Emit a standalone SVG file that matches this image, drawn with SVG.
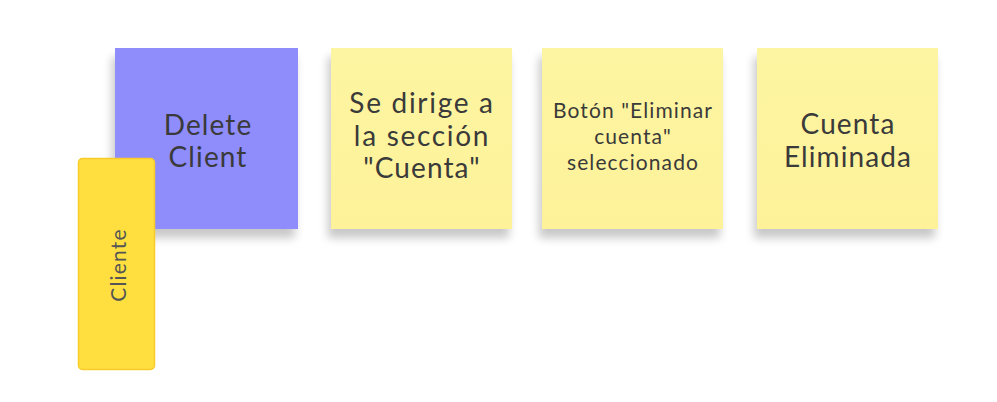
<svg xmlns="http://www.w3.org/2000/svg" width="997" height="402" viewBox="0 0 997 402">
<style>
.note{stroke:none}
.txt{font-family:"Lato","Liberation Sans",sans-serif;fill:#3a3a3a;text-anchor:middle}
.big{font-size:28px;letter-spacing:1.1px}
.wide{letter-spacing:1.7px}
.mid{font-size:21px;letter-spacing:1.1px}
.side{font-size:21px;letter-spacing:1.2px;fill:#555555}
</style>
<defs>
<linearGradient id="yg" x1="0" y1="0" x2="0" y2="1">
<stop offset="0" stop-color="#FEF5A2"/>
<stop offset="1" stop-color="#FDF29A"/>
</linearGradient>
<filter id="sh" x="-20%" y="-20%" width="140%" height="150%">
<feGaussianBlur in="SourceAlpha" stdDeviation="5"/>
<feOffset dx="-3" dy="9" result="b"/>
<feComponentTransfer><feFuncA type="linear" slope="0.22"/></feComponentTransfer>
<feMerge><feMergeNode/><feMergeNode in="SourceGraphic"/></feMerge>
</filter>
</defs>
<rect width="997" height="402" fill="#ffffff"/>
<g id="delete-client">
<rect class="note" x="115" y="48" width="183" height="181" fill="#8F8CFC" filter="url(#sh)"/>
<text class="txt big" x="208" y="135">Delete</text>
<text class="txt big" x="208" y="167">Client</text>
</g>
<g id="se-dirige">
<rect class="note" x="331" y="48" width="181" height="181" fill="url(#yg)" filter="url(#sh)"/>
<text class="txt big wide" x="422" y="113">Se dirige a</text>
<text class="txt big wide" x="422" y="146">la sección</text>
<text class="txt big" x="422" y="178">"Cuenta"</text>
</g>
<g id="boton-eliminar">
<rect class="note" x="542" y="48" width="181" height="181" fill="url(#yg)" filter="url(#sh)"/>
<text class="txt mid" x="633" y="118">Botón "Eliminar</text>
<text class="txt mid" x="633" y="144">cuenta"</text>
<text class="txt mid" x="633" y="170">seleccionado</text>
</g>
<g id="cuenta-eliminada">
<rect class="note" x="757" y="48" width="181" height="181" fill="url(#yg)" filter="url(#sh)"/>
<text class="txt big" x="848" y="134">Cuenta</text>
<text class="txt big" x="848" y="167">Eliminada</text>
</g>
<g id="cliente">
<rect x="78.5" y="158.5" width="76" height="211" rx="4" fill="#FFDF40" stroke="#F6CB2A" stroke-width="1.5"/>
<text class="txt side" transform="translate(126,265) rotate(-90)" x="0" y="0">Cliente</text>
</g>
<g id="connectors"></g>
</svg>
